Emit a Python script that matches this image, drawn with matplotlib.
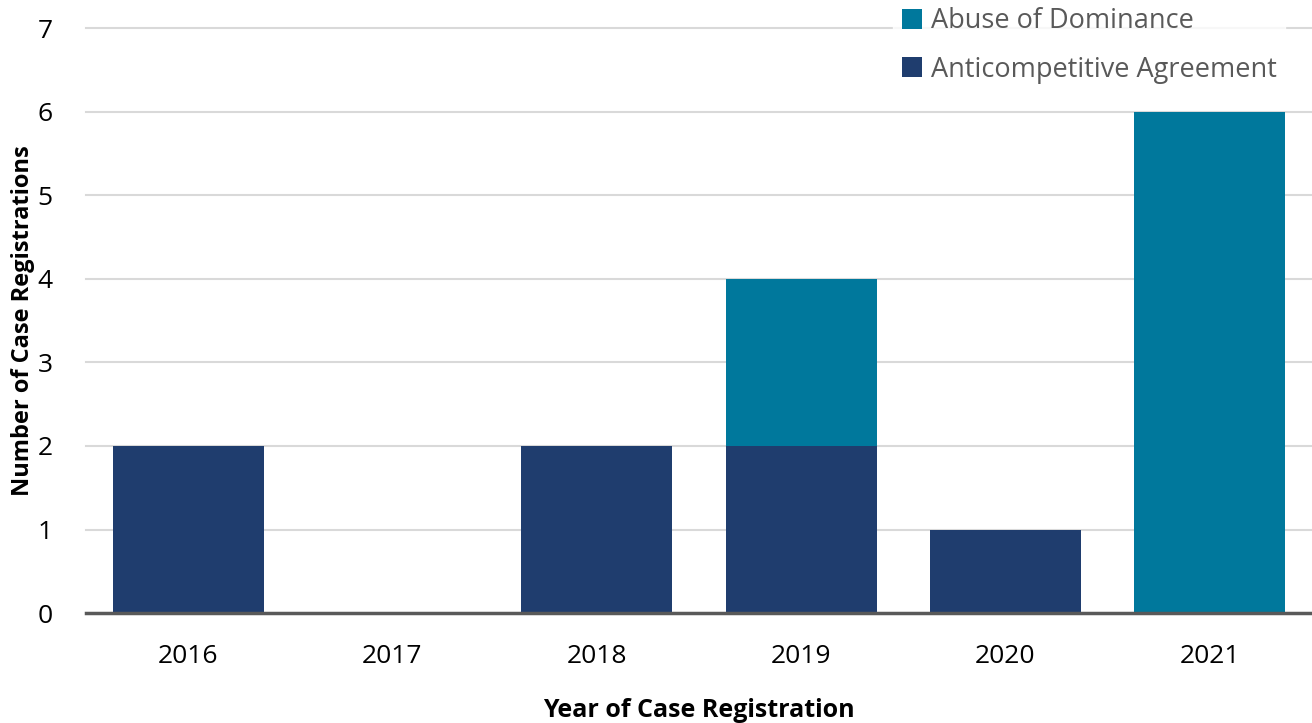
import numpy as np
import matplotlib.pyplot as plt

plt.rcParams['font.family'] = ['Open Sans', 'DejaVu Sans']

# Data
years = ["2016", "2017", "2018", "2019", "2020", "2021"]
anticompetitive = [2, 0, 2, 2, 1, 0]
abuse = [0, 0, 0, 2, 0, 6]

navy = "#1F3D6E"
teal = "#00789C"

fig = plt.figure(figsize=(13.12, 7.23), dpi=100)
ax = fig.add_axes([0.0655, 0.152, 0.9345, 0.809])

x = np.arange(len(years))
b1 = ax.bar(x, anticompetitive, width=0.74, color=navy, label="Anticompetitive Agreement", zorder=2)
b2 = ax.bar(x, abuse, width=0.74, bottom=anticompetitive, color=teal, label="Abuse of Dominance", zorder=2)

ax.set_xlim(-0.5, len(years) - 0.5)
ax.set_ylim(0, 7)
ax.set_yticks(range(0, 8))
ax.set_xticks(x)
ax.set_xticklabels(years)
ax.tick_params(axis='both', length=0, labelsize=19, colors='black')
ax.tick_params(axis='x', pad=22)
ax.tick_params(axis='y', pad=24)

ax.grid(axis='y', color='#D9D9D9', linewidth=1.5, zorder=0)
ax.set_axisbelow(True)
for gl in ax.get_ygridlines():
    gl.set_clip_on(False)
for s in ['top', 'right', 'left']:
    ax.spines[s].set_visible(False)
ax.spines['bottom'].set_color('#595959')
ax.spines['bottom'].set_linewidth(2.5)
ax.spines['bottom'].set_zorder(3)

ax.set_xlabel("Year of Case Registration", fontsize=18, fontweight='bold', labelpad=21)
ax.set_ylabel("Number of Case Registrations", fontsize=17, fontweight='bold', labelpad=2)

leg = fig.legend([b2, b1], ["Abuse of Dominance", "Anticompetitive Agreement"],
                 loc='upper right', bbox_to_anchor=(0.99, 1.02), frameon=True,
                 fontsize=19.5, handlelength=0.75, handleheight=0.75, handletextpad=0.35,
                 labelspacing=0.75, borderpad=0.3, fancybox=False)
leg.get_frame().set_facecolor('white')
leg.get_frame().set_edgecolor('white')
for t in leg.get_texts():
    t.set_color('#595959')

fig.savefig("out.png", dpi=100)
